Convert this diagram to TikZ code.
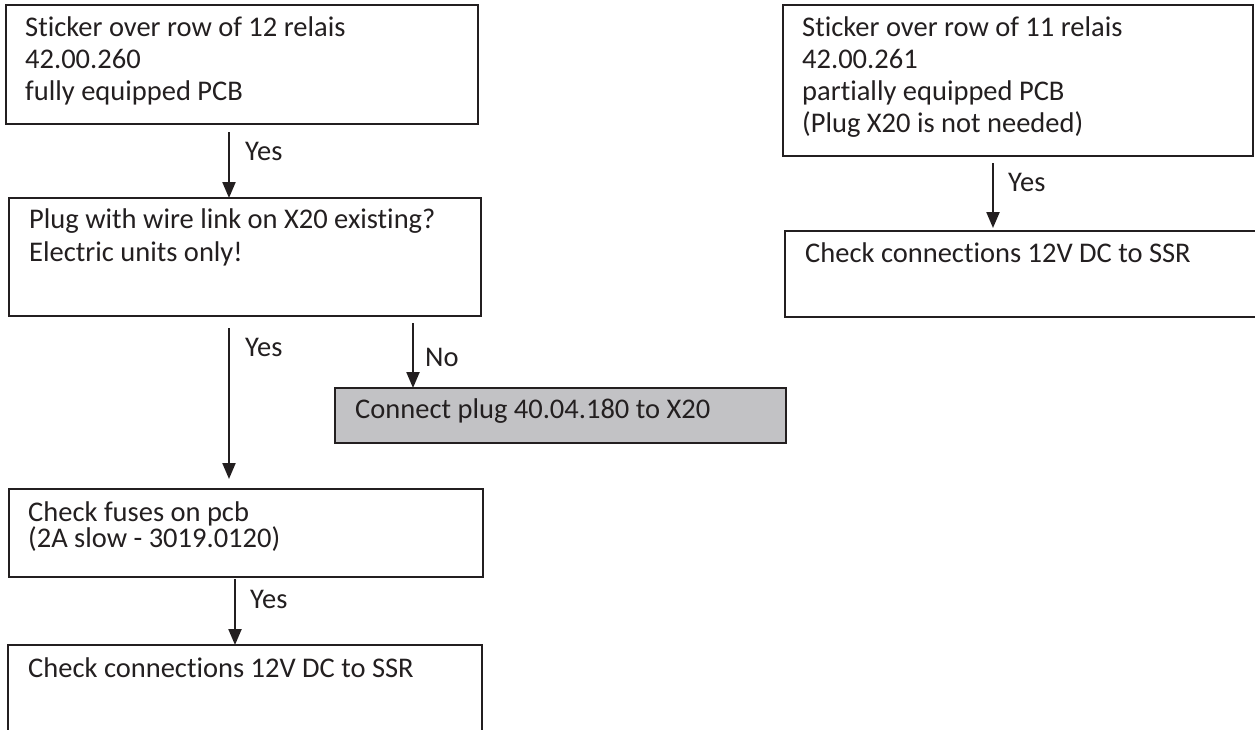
\documentclass[tikz,border=0pt]{standalone}
\usepackage{fontspec}
\setmainfont{Carlito}[Ligatures=NoCommon]
\usetikzlibrary{arrows.meta}
\definecolor{ink}{HTML}{231F20}
\definecolor{panel}{RGB}{194,194,197}
\newcommand{\stk}[2]{\parbox[t]{900pt}{\raggedright\setlength{\baselineskip}{#1}#2}}
\begin{document}
\begin{tikzpicture}[x=1pt,y=-1pt,
  box/.style={draw=ink, line width=2.2pt, anchor=north west, inner sep=0pt, outer sep=0pt},
  txt/.style={anchor=base west, inner sep=0pt, text=ink, font=\fontsize{28.5}{32}\selectfont},
  arr/.style={draw=ink, line width=2.2pt, -{Triangle[length=16pt,width=13pt]}}]
\useasboundingbox[fill=white] (0,0) rectangle (1255,729);

% boxes of the left column
\node[box, minimum width=472pt, minimum height=119pt] (b1) at (6,5) {};
\node[box, minimum width=472pt, minimum height=118pt] (b2) at (9,198) {};
\node[box, fill=panel, minimum width=451pt, minimum height=55pt] (g) at (335,388) {};
\node[box, minimum width=474pt, minimum height=88pt] (b3) at (9,489) {};
\node[box, minimum width=474pt, minimum height=120pt] (b4) at (8,645) {};
% boxes of the right column
\node[box, minimum width=470pt, minimum height=151pt] (r1) at (783,5) {};
\node[box, minimum width=480pt, minimum height=86pt] (r2) at (785,231) {};

% texts
\node[txt] (t1) at (25,36) {\stk{32pt}{Sticker over row of 12 relais\\42.00.260\\fully equipped PCB}};
\node[txt] (t2) at (29,228) {\stk{33pt}{Plug with wire link on X20 existing?\\Electric units only!}};
\node[txt] (tg) at (355,418) {Connect plug 40.04.180 to X20};
\node[txt] (t3) at (28,521) {\stk{23pt}{Check fuses on pcb\\(2A slow - 3019.0120)}};
\node[txt] (t4) at (28,677) {Check connections 12V DC to SSR};
\node[txt] (tr1) at (802,36) {\stk{32pt}{Sticker over row of 11 relais\\42.00.261\\partially equipped PCB\\(Plug X20 is not needed)}};
\node[txt] (tr2) at (805,262) {Check connections 12V DC to SSR};

% connector columns
\coordinate (ca) at (229,0);
\coordinate (cn) at (413,0);
\coordinate (cf) at (235,0);
\coordinate (cr) at (993,0);

% connectors
\draw[arr] ([yshift=-8pt]b1.south -| ca) -- (b2.north -| ca);
\draw[arr] ([yshift=-12pt]b2.south -| ca) -- ([yshift=10pt]b3.north -| ca);
\draw[arr] ([yshift=-7pt]b2.south -| cn) -- (g.north -| cn);
\draw[arr] ([yshift=-2pt]b3.south -| cf) -- (b4.north -| cf);
\draw[arr] ([yshift=-7pt]r1.south -| cr) -- ([yshift=3pt]r2.north -| cr);

% connector labels
\node[txt] (y1) at (245,160) {Yes};
\node[txt] (y2) at (245,356) {Yes};
\node[txt] (n1) at (425,366) {No};
\node[txt] (y3) at (250,608) {Yes};
\node[txt] (y4) at (1008,191) {Yes};
\end{tikzpicture}
\end{document}
